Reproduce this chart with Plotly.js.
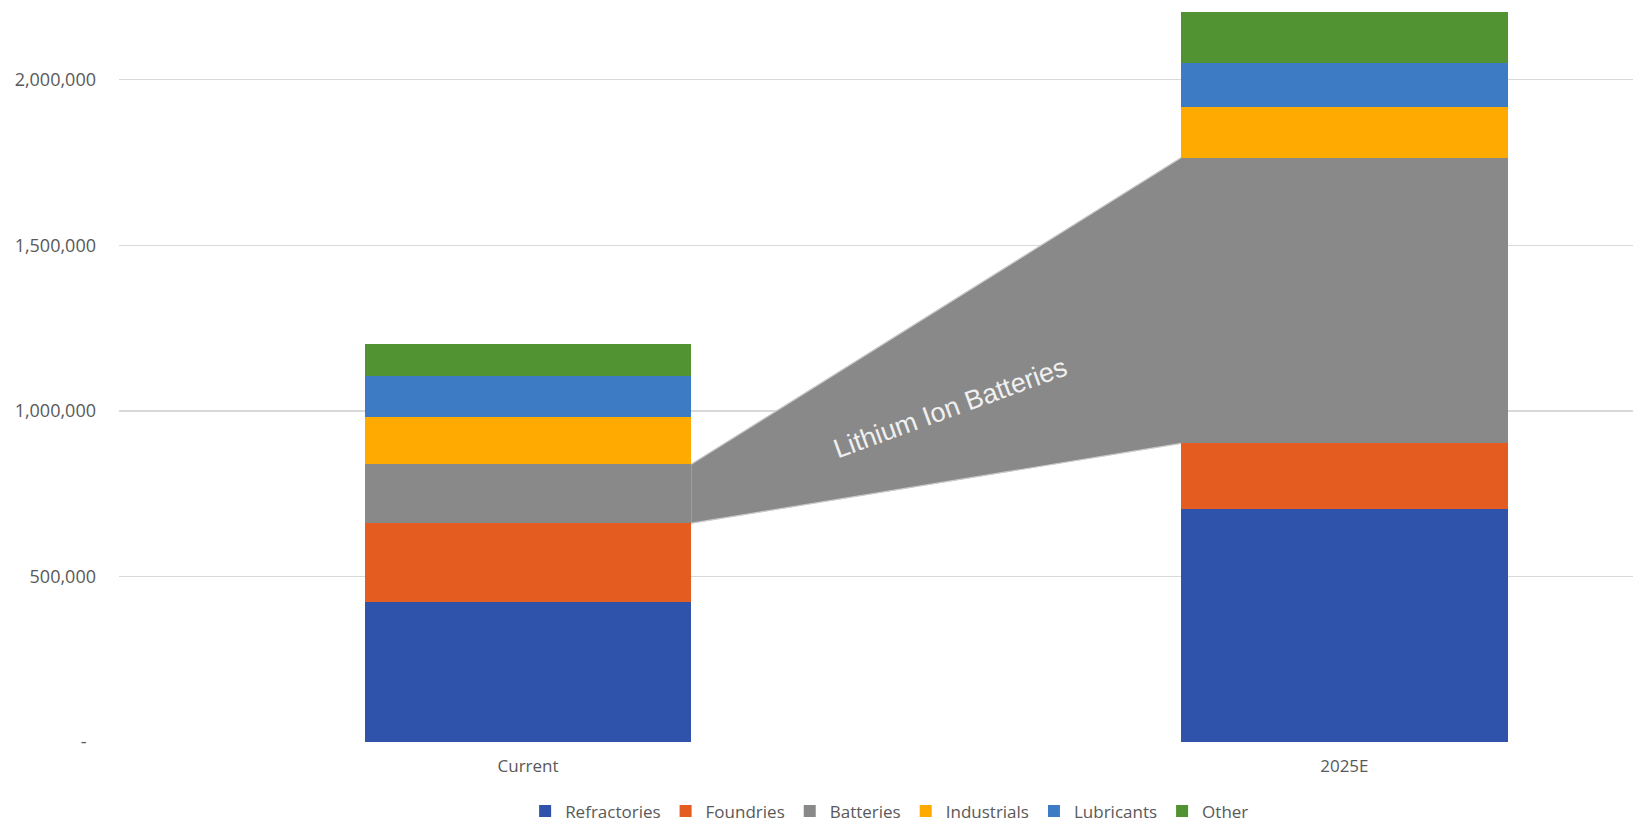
<!DOCTYPE html>
<html>
<head>
<meta charset="utf-8">
<script src="https://cdn.plot.ly/plotly-3.0.1.min.js"></script>
<style>html,body{margin:0;padding:0;background:#fff;}#chart{width:1633px;height:822px;}</style>
</head>
<body>
<div id="chart"></div>
<script>
// ---- Data ----
const categories = ['Current', '2025E'];
const refractories = [422000, 705000];
const foundries = [239000, 197000];
const batteries = [178000, 863000];
const industrials = [143000, 152000];
const lubricants = [123000, 133000];
const other = [97000, 154000];
const seriesNames = ['Refractories', 'Foundries', 'Batteries', 'Industrials', 'Lubricants', 'Other'];
const yTickVals = [0, 500000, 1000000, 1500000, 2000000];
const yTickText = ['-\u00a0\u00a0', '500,000', '1,000,000', '1,500,000', '2,000,000'];
const annotationText = 'Lithium Ion Batteries';

// ---- Styles ----
const colors = ['#2F52AB', '#E45C20', '#898989', '#FFAA00', '#3D7CC5', '#519232'];
const barWidth = 0.4;
const xPos = categories.map((c, i) => i);

const seriesValues = [refractories, foundries, batteries, industrials, lubricants, other];

const traces = [];

// Connector polygon for Batteries segment between the two bars
const battBottom = categories.map((c, i) => refractories[i] + foundries[i]);
const battTop = categories.map((c, i) => battBottom[i] + batteries[i]);
const xL = xPos[0] + barWidth / 2;
const xR = xPos[1] - barWidth / 2;
traces.push({
  type: 'scatter',
  mode: 'lines',
  x: [xL, xR, xR, xL, xL],
  y: [battTop[0], battTop[1], battBottom[1], battBottom[0], battTop[0]],
  fill: 'toself',
  fillcolor: '#898989',
  line: {color: '#898989', width: 0.5},
  showlegend: false,
  hoverinfo: 'skip'
});
traces.push({
  type: 'scatter',
  mode: 'lines',
  x: [xL, xR, null, xL, xR],
  y: [battTop[0], battTop[1], null, battBottom[0], battBottom[1]],
  line: {color: 'rgba(205,205,205,0.9)', width: 1.2},
  connectgaps: false,
  showlegend: false,
  hoverinfo: 'skip'
});

seriesValues.forEach((vals, k) => traces.push({
  type: 'bar',
  name: seriesNames[k],
  x: xPos,
  y: vals,
  width: barWidth,
  marker: {color: colors[k], line: {width: 0}},
  hoverinfo: 'skip'
}));

const layout = {
  width: 1633,
  height: 822,
  margin: {l: 119, r: 0, t: 8, b: 80, autoexpand: false},
  paper_bgcolor: '#ffffff',
  plot_bgcolor: '#ffffff',
  barmode: 'stack',
  font: {family: 'Open Sans, sans-serif', color: '#595959', size: 17},
  showlegend: true,
  xaxis: {
    range: [-0.5011, 1.3536],
    tickvals: xPos,
    ticktext: categories,
    showgrid: false,
    zeroline: false,
    showline: false,
    ticks: '',
    ticklabelstandoff: 12,
    tickfont: {family: 'Open Sans, sans-serif', size: 17, color: '#595959'},
    fixedrange: true
  },
  yaxis: {
    range: [0, 2217000],
    tickvals: yTickVals,
    ticktext: yTickText,
    showgrid: true,
    gridcolor: '#d9d9d9',
    gridwidth: 1.3,
    zeroline: false,
    showline: false,
    ticks: '',
    ticklabelstandoff: 22,
    tickfont: {family: 'Open Sans, sans-serif', size: 18, color: '#595959'},
    fixedrange: true
  },
  legend: {
    orientation: 'h',
    x: 0.509,
    xanchor: 'center',
    y: -0.0947,
    yanchor: 'middle',
    font: {family: 'Open Sans, sans-serif', size: 17, color: '#595959'},
    traceorder: 'normal',
    bgcolor: 'rgba(0,0,0,0)'
  },
  annotations: [{
    text: annotationText,
    x: 0.517,
    y: 1010000,
    xref: 'x',
    yref: 'y',
    showarrow: false,
    textangle: -20,
    font: {family: 'Liberation Sans, Arial, sans-serif', size: 27, color: '#f0f0f0'}
  }]
};

Plotly.newPlot('chart', traces, layout, {displayModeBar: false, staticPlot: true});
</script>
</body>
</html>
